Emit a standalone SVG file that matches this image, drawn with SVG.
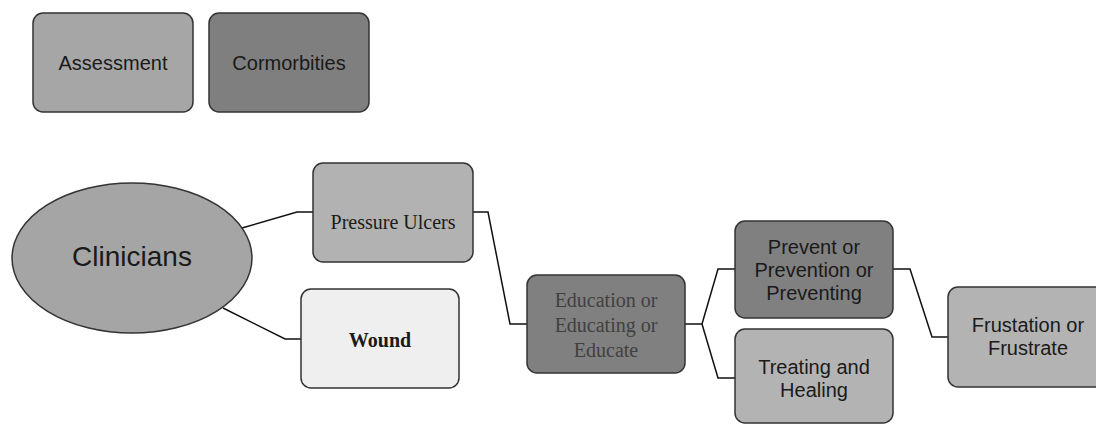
<svg xmlns="http://www.w3.org/2000/svg" width="1096" height="424" viewBox="0 0 1096 424">
<style>
.box{stroke:#333;stroke-width:1.5}
.sans{font-family:"Liberation Sans",Arial,sans-serif;font-size:20px;fill:#1a1a1a;text-anchor:middle}
.serif{font-family:"Liberation Serif","Times New Roman",serif;font-size:20px;fill:#1a1a1a;text-anchor:middle}
.conn{fill:none;stroke:#111;stroke-width:1.5}
</style>
<rect width="1096" height="424" fill="#fff"/>
<g id="connectors">
<polyline class="conn" points="242,228 297,212 313,212"/>
<polyline class="conn" points="223,308 285,339 301,339"/>
<polyline class="conn" points="473,212 488,212 510,324 528,324"/>
<polyline class="conn" points="685,324 702,324 718,269 735,269"/>
<polyline class="conn" points="702,324 718,378 735,378"/>
<polyline class="conn" points="893,269 910,269 932,337 948,337"/>
</g>
<g id="assessment">
<rect class="box" x="33" y="13" width="160" height="99" rx="10" fill="#a6a6a6"/>
<text class="sans" x="113" y="70">Assessment</text>
</g>
<g id="cormorbities">
<rect class="box" x="209" y="13" width="160" height="99" rx="10" fill="#7f7f7f"/>
<text class="sans" x="289" y="70">Cormorbities</text>
</g>
<g id="clinicians">
<ellipse class="box" cx="132" cy="258" rx="120" ry="75" fill="#a5a5a5"/>
<text class="sans" x="132" y="266" style="font-size:28px">Clinicians</text>
</g>
<g id="pressure-ulcers">
<rect class="box" x="313" y="163" width="160" height="99" rx="10" fill="#b2b2b2"/>
<text class="serif" x="393" y="229">Pressure Ulcers</text>
</g>
<g id="wound">
<rect class="box" x="301" y="289" width="158" height="99" rx="10" fill="#efefef"/>
<text class="serif" x="380" y="347" font-weight="bold">Wound</text>
</g>
<g id="education">
<rect class="box" x="527" y="275" width="158" height="98" rx="10" fill="#808080"/>
<text class="serif" x="606" y="307" style="fill:#404040">Education or</text>
<text class="serif" x="606" y="332" style="fill:#404040">Educating or</text>
<text class="serif" x="606" y="357" style="fill:#404040">Educate</text>
</g>
<g id="prevent">
<rect class="box" x="735" y="221" width="158" height="97" rx="10" fill="#808080"/>
<text class="sans" x="814" y="254">Prevent or</text>
<text class="sans" x="814" y="277">Prevention or</text>
<text class="sans" x="814" y="300">Preventing</text>
</g>
<g id="treating">
<rect class="box" x="735" y="329" width="158" height="94" rx="10" fill="#b3b3b3"/>
<text class="sans" x="814" y="374">Treating and</text>
<text class="sans" x="814" y="397">Healing</text>
</g>
<g id="frustation">
<rect class="box" x="948" y="287" width="160" height="100" rx="10" fill="#b3b3b3"/>
<text class="sans" x="1028" y="332">Frustation or</text>
<text class="sans" x="1028" y="355">Frustrate</text>
</g>
</svg>
